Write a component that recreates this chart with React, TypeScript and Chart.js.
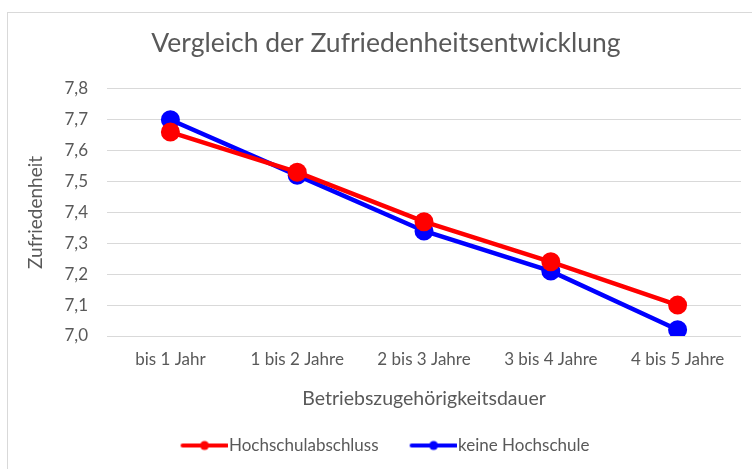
import { useEffect, useRef } from "react";
import { Chart, registerables } from "chart.js";

Chart.register(...registerables);

const categories = ["bis 1 Jahr", "1 bis 2 Jahre", "2 bis 3 Jahre", "3 bis 4 Jahre", "4 bis 5 Jahre"];
const hochschulabschluss = [7.66, 7.53, 7.37, 7.24, 7.1];
const keineHochschule = [7.7, 7.52, 7.34, 7.21, 7.02];
const seriesNames = ["Hochschulabschluss", "keine Hochschule"];
const yMin = 7.0;
const yMax = 7.8;
const yStep = 0.1;

const RED = "#ff0000";
const BLUE = "#0000ff";
const TEXT = "#595959";
const GRID = "#d9d9d9";
const FONT = "Lato, 'Open Sans', sans-serif";

function makeIcon(color: string): HTMLCanvasElement {
  const c = document.createElement("canvas");
  c.width = 72;
  c.height = 12;
  const ctx = c.getContext("2d")!;
  ctx.strokeStyle = color;
  ctx.lineWidth = 4;
  ctx.lineCap = "round";
  ctx.beginPath();
  ctx.moveTo(27, 6);
  ctx.lineTo(71, 6);
  ctx.stroke();
  ctx.fillStyle = color;
  ctx.beginPath();
  ctx.arc(49, 6, 4.5, 0, Math.PI * 2);
  ctx.fill();
  return c;
}

const legendShift = {
  id: "legendShift",
  afterLayout(chart: any) {
    const lg = chart.legend;
    if (lg) {
      lg.left -= 10;
      lg.right -= 10;
      if (lg.legendHitBoxes) {
        lg.legendHitBoxes.forEach((b: any) => (b.left -= 10));
      }
    }
  },
};

export default function App() {
  const ref = useRef<HTMLCanvasElement | null>(null);

  useEffect(() => {
    document.body.style.overflow = "hidden";
    const canvas = ref.current;
    if (!canvas) return;
    const iconRed = makeIcon(RED);
    const iconBlue = makeIcon(BLUE);
    const chart = new Chart(canvas, {
      type: "line",
      data: {
        labels: categories,
        datasets: [
          {
            label: seriesNames[0],
            data: hochschulabschluss,
            borderColor: RED,
            backgroundColor: RED,
            borderWidth: 4.5,
            pointStyle: "circle",
            pointRadius: 9.5,
            pointHoverRadius: 9.5,
            pointBorderWidth: 0,
          },
          {
            label: seriesNames[1],
            data: keineHochschule,
            borderColor: BLUE,
            backgroundColor: BLUE,
            borderWidth: 4.5,
            pointStyle: "circle",
            pointRadius: 9.5,
            pointHoverRadius: 9.5,
            pointBorderWidth: 0,
          },
        ],
      },
      options: {
        responsive: false,
        animation: false,
        layout: { padding: { left: 31, right: 11, top: 0, bottom: 5 } },
        elements: {
          line: { tension: 0 },
        },
        plugins: {
          tooltip: { enabled: false },
          title: {
            display: true,
            text: "Vergleich der Zufriedenheitsentwicklung",
            color: TEXT,
            font: { family: FONT, size: 26.5, weight: "normal" },
            padding: { top: 28, bottom: 29 },
          },
          legend: {
            display: true,
            position: "bottom",
            labels: {
              color: TEXT,
              font: { family: FONT, size: 17 },
              usePointStyle: true,
              pointStyleWidth: 58,
              padding: 13,
              generateLabels: (ch: any) =>
                ch.data.datasets.map((ds: any, i: number) => ({
                  text: ds.label,
                  fillStyle: ds.borderColor,
                  strokeStyle: ds.borderColor,
                  fontColor: TEXT,
                  lineWidth: 0,
                  pointStyle: i === 0 ? iconRed : iconBlue,
                  hidden: false,
                  datasetIndex: i,
                })),
            },
          },
        },
        scales: {
          x: {
            offset: true,
            grid: { display: false },
            border: { display: false },
            ticks: {
              color: TEXT,
              font: { family: FONT, size: 17 },
              padding: 5,
              maxRotation: 0,
            },
            title: {
              display: true,
              text: "Betriebszugehörigkeitsdauer",
              color: TEXT,
              font: { family: FONT, size: 19.5 },
              padding: { top: 0, bottom: 14 },
            },
            afterFit: (scale: any) => {
              scale.height = 88;
            },
          },
          y: {
            min: yMin,
            max: yMax,
            grid: { color: GRID, lineWidth: 1, drawTicks: false },
            border: { display: false },
            ticks: {
              stepSize: yStep,
              color: TEXT,
              font: { family: FONT, size: 17 },
              padding: 19,
              callback: (v: any) => Number(v).toFixed(1).replace(".", ","),
            },
            title: {
              display: true,
              text: "Zufriedenheit",
              color: TEXT,
              font: { family: FONT, size: 19 },
              padding: { top: -7, bottom: 0 },
            },
            afterFit: (scale: any) => {
              scale.width = 76;
            },
          },
        },
      },
      plugins: [legendShift],
    } as any);
    return () => chart.destroy();
  }, []);

  return (
    <div
      style={{
        position: "fixed",
        left: 0,
        top: 0,
        width: 752,
        height: 469,
        overflow: "hidden",
        background: "#ffffff",
      }}
    >
      <div
        style={{
          position: "absolute",
          left: 7,
          top: 12,
          width: 800,
          height: 500,
          border: `1px solid ${GRID}`,
        }}
      />
      <canvas
        ref={ref}
        width={752}
        height={469}
        style={{ position: "absolute", left: 0, top: 0, width: 752, height: 469 }}
      />
    </div>
  );
}
